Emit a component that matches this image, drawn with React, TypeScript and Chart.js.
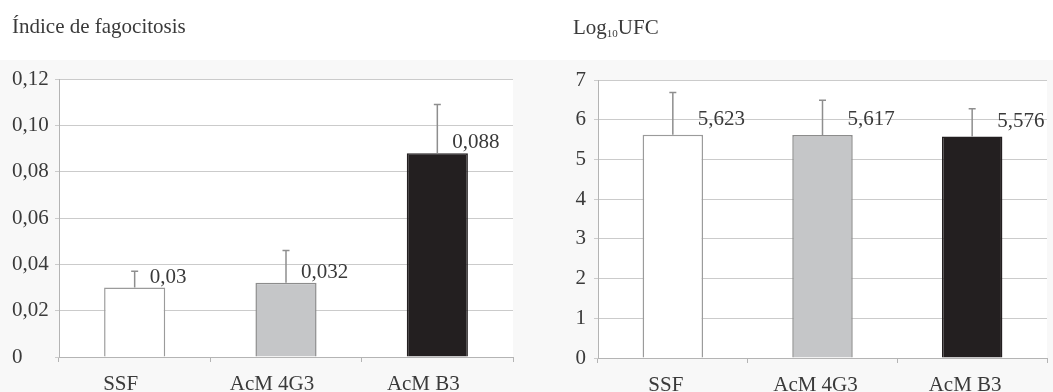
import React, { useEffect, useRef } from 'react';
import { Chart, registerables } from 'chart.js';

Chart.register(...registerables);

const categories = ['SSF', 'AcM 4G3', 'AcM B3'];

const phagoValues = [0.03, 0.032, 0.088];
const phagoErrors = [0.007, 0.014, 0.021];
const phagoTicks = ['0', '0,02', '0,04', '0,06', '0,08', '0,10', '0,12'];

const cfuValues = [5.623, 5.617, 5.576];
const cfuErrors = [1.06, 0.87, 0.7];
const cfuTicks = ['0', '1', '2', '3', '4', '5', '6', '7'];

const barFills = ['#ffffff', '#c5c6c8', '#231f20'];
const barBorders = ['#9b9b9b', '#8c8c8c', '#231f20'];

const FONT = '"Liberation Serif", "Times New Roman", serif';
const TEXT = '#3a3a3a';
const GRID = '#cbcbcb';
const AXIS = '#b4b4b4';

const fmt = (v: number) => String(v).replace('.', ',');

type Part = { text: string; size: number; shift: number };

type Props = {
  width: number;
  values: number[];
  errors: number[];
  ticks: string[];
  max: number;
  step: number;
  padding: { left: number; right: number; top: number; bottom: number };
  yWidth: number;
  xHeight: number;
  crossAlign: 'near' | 'far';
  tickPad: number;
  dx: number;
  dy: number;
  catShift: number;
  catBaseline: number;
  title: Part[];
  titleX: number;
  titleY: number;
  left: number;
};

function makeDecor(p: Props) {
  return {
    id: 'decor',
    beforeDraw(chart: any) {
      const { ctx, chartArea } = chart;
      ctx.save();
      ctx.fillStyle = '#ffffff';
      ctx.fillRect(0, 0, chart.width, chart.height);
      ctx.fillStyle = '#f8f8f8';
      ctx.fillRect(0, 60, chart.width, chart.height - 60);
      ctx.fillStyle = '#ffffff';
      ctx.fillRect(chartArea.left, chartArea.top, chartArea.right - chartArea.left, chartArea.bottom - chartArea.top);
      ctx.restore();
    },
    afterDatasetsDraw(chart: any) {
      const { ctx } = chart;
      const meta = chart.getDatasetMeta(0);
      const yScale = chart.scales.y;
      ctx.save();
      meta.data.forEach((bar: any, i: number) => {
        const v = p.values[i];
        const e = p.errors[i];
        const x = bar.x;
        const yTop = yScale.getPixelForValue(v + e);
        ctx.strokeStyle = '#8e8e8e';
        ctx.lineWidth = 1.5;
        ctx.beginPath();
        ctx.moveTo(x, bar.y);
        ctx.lineTo(x, yTop);
        ctx.moveTo(x - 3.5, yTop);
        ctx.lineTo(x + 3.5, yTop);
        ctx.stroke();
        ctx.fillStyle = TEXT;
        ctx.font = `21px ${FONT}`;
        ctx.textAlign = 'left';
        ctx.textBaseline = 'alphabetic';
        ctx.fillText(fmt(v), x + p.dx, bar.y + p.dy);
      });
      ctx.restore();
    },
    afterDraw(chart: any) {
      const { ctx, chartArea } = chart;
      const xScale = chart.scales.x;
      ctx.save();
      ctx.fillStyle = TEXT;
      ctx.textBaseline = 'alphabetic';
      // category labels
      ctx.font = `21px ${FONT}`;
      ctx.textAlign = 'center';
      categories.forEach((c, i) => {
        ctx.fillText(c, xScale.getPixelForValue(i) + p.catShift, chartArea.bottom + p.catBaseline);
      });
      // title
      ctx.textAlign = 'left';
      let x = p.titleX;
      p.title.forEach((part) => {
        ctx.font = `${part.size}px ${FONT}`;
        ctx.fillText(part.text, x, p.titleY + part.shift);
        x += ctx.measureText(part.text).width;
      });
      ctx.restore();
    },
  };
}

function BarChart(p: Props) {
  const ref = useRef<HTMLCanvasElement>(null);
  useEffect(() => {
    if (!ref.current) return;
    const chart = new Chart(ref.current, {
      type: 'bar',
      data: {
        labels: categories,
        datasets: [
          {
            data: p.values,
            backgroundColor: barFills,
            borderColor: barBorders,
            borderWidth: 1.5,
            barPercentage: 0.404,
            categoryPercentage: 1,
          },
        ],
      },
      options: {
        responsive: false,
        animation: false,
        devicePixelRatio: 1,
        layout: { padding: p.padding },
        plugins: {
          legend: { display: false },
          tooltip: { enabled: false },
          title: { display: false },
        },
        scales: {
          x: {
            grid: { offset: true, drawOnChartArea: false, drawTicks: true, tickLength: 5, color: AXIS, lineWidth: 1 },
            border: { display: true, color: AXIS, width: 1 },
            ticks: { display: false },
            afterFit: (s: any) => {
              s.height = p.xHeight;
            },
          },
          y: {
            min: 0,
            max: p.max,
            grid: { color: GRID, lineWidth: 1, drawTicks: true, tickLength: 4 },
            border: { display: true, color: AXIS, width: 1 },
            ticks: {
              stepSize: p.step,
              font: { family: FONT, size: 21 },
              color: TEXT,
              padding: p.tickPad,
              crossAlign: p.crossAlign,
              callback: (_v: any, i: number) => p.ticks[i],
            },
            afterFit: (s: any) => {
              s.width = p.yWidth;
            },
          },
        },
      },
      plugins: [makeDecor(p)],
    });
    return () => chart.destroy();
  }, []);
  return (
    <canvas
      ref={ref}
      width={p.width}
      height={392}
      style={{ position: 'absolute', left: p.left, top: 0, width: p.width, height: 392 }}
    />
  );
}

export default function App() {
  return (
    <div style={{ position: 'fixed', left: 0, top: 0, width: 1053, height: 392, background: '#fff', overflow: 'hidden' }}>
      <BarChart
        left={0}
        width={520}
        values={phagoValues}
        errors={phagoErrors}
        ticks={phagoTicks}
        max={0.12}
        step={0.02}
        padding={{ left: 12, right: 7, top: 79, bottom: 0 }}
        yWidth={47}
        xHeight={35}
        crossAlign="far"
        tickPad={8}
        dx={15}
        dy={-5}
        catShift={-14}
        catBaseline={33}
        title={[{ text: 'Índice de fagocitosis', size: 21, shift: 0 }]}
        titleX={12}
        titleY={33}
      />
      <BarChart
        left={520}
        width={533}
        values={cfuValues}
        errors={cfuErrors}
        ticks={cfuTicks}
        max={7}
        step={1}
        padding={{ left: 0, right: 6, top: 80, bottom: 0 }}
        yWidth={78}
        xHeight={34}
        crossAlign="near"
        tickPad={8}
        dx={25}
        dy={-10}
        catShift={-7}
        catBaseline={33}
        title={[
          { text: 'Log', size: 21, shift: 0 },
          { text: '10', size: 11, shift: 3 },
          { text: 'UFC', size: 21, shift: 0 },
        ]}
        titleX={53}
        titleY={34}
      />
    </div>
  );
}
